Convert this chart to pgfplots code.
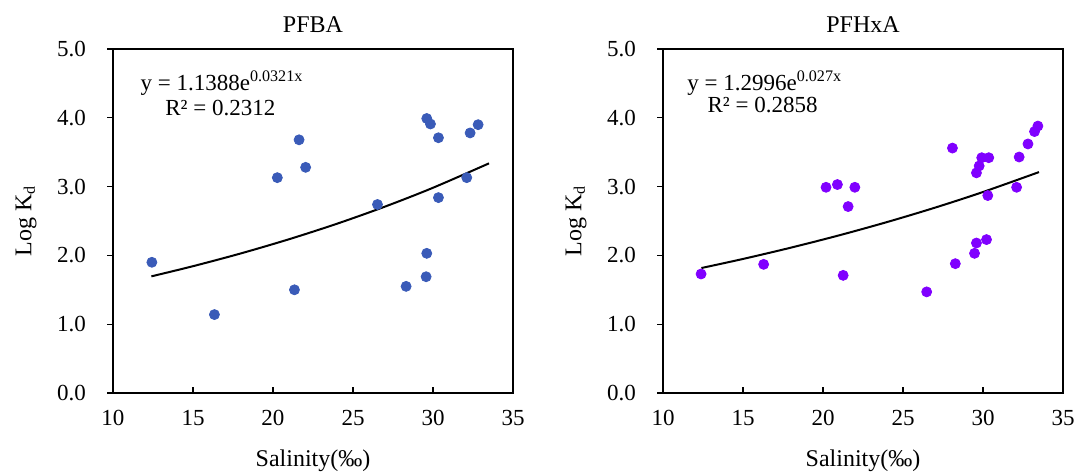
\documentclass[border=0pt]{standalone}
\usepackage{pgfplots}
\pgfplotsset{compat=1.18}
\usepackage{fontspec}
\setmainfont{Liberation Serif}
\definecolor{cblue}{HTML}{3A5BB8}
\definecolor{cpurple}{HTML}{8000FF}
\pgfplotsset{
  panel/.style={
    scale only axis, width=200pt, height=172pt,
    xmin=10, xmax=35, ymin=0, ymax=5,
    xtick={10,15,...,35}, ytick={0,1,...,5},
    yticklabel style={/pgf/number format/fixed, /pgf/number format/fixed zerofill, /pgf/number format/precision=1, xshift=-7pt},
    /pgf/number format/assume math mode=true,
    tick label style={font=\fontsize{11.5}{13}\selectfont},
    xticklabel style={yshift=-5pt},
    x tick style={black, line width=0.6pt}, y tick style={black, line width=0.6pt},
    xtick align=inside, ytick align=outside,
    major tick length=3pt,
    axis line style={line width=0.7pt},
    xtick pos=bottom, ytick pos=left,
    label style={font=\fontsize{12}{14}\selectfont},
    xlabel={Salinity(‰)}, ylabel={Log K\textsubscript{d}},
    xlabel style={at={(axis description cs:0.5,-0.198)}, anchor=center},
    ylabel style={at={(axis description cs:-0.2175,0.5)}, anchor=center},
    clip=false,
  }
}
\begin{document}
\begin{tikzpicture}[x=1pt,y=1pt]
\useasboundingbox (0,0) rectangle (537.5,235.5);
\begin{axis}[panel, at={(56.5pt,39pt)}, anchor=south west]
\addplot[only marks, mark=*, mark size=2.5pt, color=cblue] coordinates {
(12.43,1.90) (16.34,1.14) (20.27,3.13) (21.63,3.68) (22.04,3.28) (21.34,1.50)
(26.53,2.74) (28.32,1.55) (29.61,3.99) (29.84,3.91) (30.34,3.71) (30.34,2.84)
(29.61,2.03) (29.57,1.69) (32.11,3.13) (32.32,3.78) (32.82,3.90)};
\addplot[black, line width=1pt, smooth] coordinates {
(12.4,1.6956) (15,1.8432) (18,2.0295) (21,2.2348) (24,2.4604) (27,2.7093) (30,2.9831) (33.5,3.3377)};
\node[anchor=base, font=\fontsize{12}{14}\selectfont, inner sep=0pt] at (axis description cs:0.5,1.047) {PFBA};
\node[anchor=base west, font=\fontsize{11.5}{13}\selectfont, inner sep=0pt] at (axis cs:11.7,4.40) {y = 1.1388e\textsuperscript{0.0321x}};
\node[anchor=base west, font=\fontsize{11.5}{13}\selectfont, inner sep=0pt] at (axis cs:13.25,4.03) {R² = 0.2312};
\end{axis}
\begin{axis}[panel, at={(331.5pt,39pt)}, anchor=south west]
\addplot[only marks, mark=*, mark size=2.5pt, color=cpurple] coordinates {
(12.38,1.73) (16.29,1.87) (20.19,2.99) (20.90,3.03) (21.99,2.99) (21.57,2.71)
(21.26,1.71) (26.48,1.47) (28.09,3.56) (28.27,1.88) (29.47,2.03) (29.59,2.18)
(30.22,2.23) (29.59,3.20) (29.76,3.30) (29.92,3.42) (30.36,3.42) (30.30,2.87)
(32.10,2.99) (32.26,3.43) (32.81,3.62) (33.22,3.80) (33.43,3.88)};
\addplot[black, line width=1pt, smooth] coordinates {
(12.4,1.8165) (15,1.9485) (18,2.1129) (21,2.2912) (24,2.4845) (27,2.6941) (30,2.9214) (33.5,3.2109)};
\node[anchor=base, font=\fontsize{12}{14}\selectfont, inner sep=0pt] at (axis description cs:0.5,1.047) {PFHxA};
\node[anchor=base west, font=\fontsize{11.5}{13}\selectfont, inner sep=0pt] at (axis cs:11.5,4.40) {y = 1.2996e\textsuperscript{0.027x}};
\node[anchor=base west, font=\fontsize{11.5}{13}\selectfont, inner sep=0pt] at (axis cs:12.76,4.07) {R² = 0.2858};
\end{axis}
\end{tikzpicture}
\end{document}
